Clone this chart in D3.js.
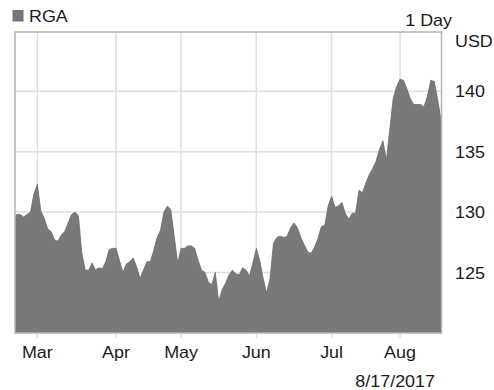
<!DOCTYPE html>
<html>
<head>
<meta charset="utf-8">
<script src="https://cdn.jsdelivr.net/npm/d3@7"></script>
<style>
  html, body { margin: 0; padding: 0; background: #fff; }
  svg { display: block; font-family: "Liberation Sans", Arial, sans-serif; }
</style>
</head>
<body>
<svg id="chart" width="494" height="390"></svg>
<script>
// ---- data (trading days Feb 17 2017 .. Aug 17 2017, closing price in USD) ----
const prices = [
  129.6, 129.8, 129.8, 129.6, 129.8, 130.0, 131.5, 132.3, 130.1, 129.5,
  128.6, 128.4, 127.7, 127.6, 128.1, 128.4, 129.1, 129.8, 130.0, 129.7,
  126.6, 125.2, 125.2, 125.8, 125.2, 125.4, 125.3, 125.9, 126.9, 127.0,
  127.0, 126.0, 125.0, 125.7, 125.9, 126.2, 125.5, 124.5, 125.2, 125.9,
  125.9, 126.8, 127.9, 128.5, 130.0, 130.5, 130.2, 128.0, 125.8, 127.0,
  127.0, 127.2, 127.2, 127.0, 126.0, 125.2, 125.0, 124.2, 124.0, 125.0,
  122.6, 123.6, 124.1, 124.8, 125.2, 124.9, 124.8, 125.4, 125.2, 124.7,
  125.8, 127.0, 126.0, 124.5, 123.3, 124.5, 127.4, 127.9, 128.0, 127.9,
  128.0, 128.7, 129.1, 128.7, 127.9, 127.3, 126.7, 126.6, 127.1, 127.8,
  128.8, 128.9, 130.5, 131.3, 130.4, 130.5, 130.8, 129.9, 129.4, 129.9,
  129.9, 131.8, 131.6, 132.4, 133.1, 133.6, 134.2, 135.2, 135.9, 134.3,
  136.8, 139.4, 140.4, 141.0, 140.9, 140.2, 139.4, 138.9, 138.9, 138.9,
  138.7, 139.6, 140.9, 140.8, 139.3, 137.6
];
const monthLabels = ["Mar", "Apr", "May", "Jun", "Jul", "Aug"];
const monthIndex = [7, 30, 49, 71, 93, 113];   // first trading day of each month
const yTicks = [125, 130, 135, 140];
const seriesName = "RGA";
const periodLabel = "1 Day";
const currencyLabel = "USD";
const dateLabel = "8/17/2017";

// ---- layout ----
const svg = d3.select("#chart");
const pL = 15, pR = 441.5, pT = 32, pB = 333;
const SX = 1.12; // horizontal text stretch
const textColor = "#1a1a1a";

const x = d3.scaleLinear().domain([0, prices.length - 1]).range([13.4, 441.1]);
const y = d3.scaleLinear().domain([120, 144.9]).range([pB, pT]);

function txt(g, s, tx, ty, anchor, size) {
  return g.append("text")
    .attr("transform", `translate(${tx},${ty}) scale(${SX},1)`)
    .attr("text-anchor", anchor)
    .attr("font-size", size || 16)
    .attr("fill", textColor)
    .text(s);
}

svg.append("defs").append("clipPath").attr("id", "plotclip")
  .append("rect").attr("x", pL).attr("y", pT)
  .attr("width", pR - pL).attr("height", pB - pT);

// gridlines
const grid = svg.append("g");
grid.selectAll("line.h").data(yTicks).join("line")
  .attr("x1", pL).attr("x2", pR)
  .attr("y1", d => y(d)).attr("y2", d => y(d))
  .attr("stroke", "#dedede").attr("stroke-width", 1.5);
grid.selectAll("line.v").data(monthIndex).join("line")
  .attr("x1", d => x(d)).attr("x2", d => x(d))
  .attr("y1", pT).attr("y2", pB)
  .attr("stroke", "#dedede").attr("stroke-width", 1.5);

// area
const area = d3.area()
  .x((d, i) => x(i))
  .y0(pB)
  .y1(d => y(d))
  .curve(d3.curveLinear);
svg.append("path")
  .datum(prices)
  .attr("clip-path", "url(#plotclip)")
  .attr("d", area)
  .attr("fill", "#7a787a")
  .attr("stroke", "#6c6a6c")
  .attr("stroke-width", 0.8)
  .attr("stroke-linejoin", "round");

// frame
svg.append("rect")
  .attr("x", pL).attr("y", pT)
  .attr("width", pR - pL).attr("height", pB - pT)
  .attr("fill", "none").attr("stroke", "#b4b4b4").attr("stroke-width", 1.5);

// x axis ticks (small marks under the frame) + labels
const xa = svg.append("g");
xa.selectAll("line").data(monthIndex).join("line")
  .attr("x1", d => x(d)).attr("x2", d => x(d))
  .attr("y1", pB + 1).attr("y2", pB + 5)
  .attr("stroke", "#d8d8d8").attr("stroke-width", 1.2);
monthIndex.forEach((d, i) => txt(xa, monthLabels[i], x(d), 358, "middle"));

// y axis labels on the right
const ya = svg.append("g");
yTicks.forEach(v => txt(ya, String(v), 455, y(v) + 6, "start"));

// header texts
svg.append("rect").attr("x", 12.5).attr("y", 10).attr("width", 11).attr("height", 11.5)
  .attr("fill", "#777577");
txt(svg, seriesName, 29, 21.5, "start");
txt(svg, periodLabel, 452, 25.5, "end");
txt(svg, currencyLabel, 455, 46.5, "start");
txt(svg, dateLabel, 435, 387, "end");
</script>
</body>
</html>
